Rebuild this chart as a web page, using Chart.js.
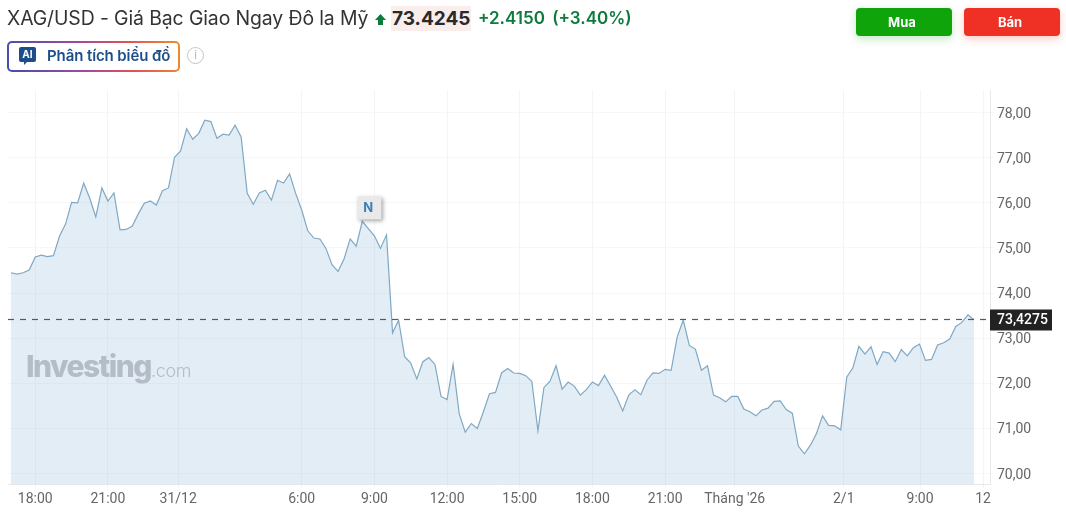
<!DOCTYPE html>
<html>
	<head>
		<meta charset="UTF-8">
		<title>XAG/USD</title>
		<style>
			html,body{margin:0;padding:0;background:#fff;overflow:hidden;}
			body{width:1066px;height:518px;position:relative;font-family:Inter,sans-serif;}
			#myChart{position:absolute;left:0;top:0;}
			.abs{position:absolute;white-space:nowrap;}
			#title{left:7px;top:6px;font-size:19.4px;line-height:24px;color:#333;letter-spacing:-0.1px;}
			#price{left:391px;top:6px;height:25px;line-height:25px;padding:0 1px;background:#faeeec;font-size:19px;font-weight:700;color:#2a2a2a;}
			#change{left:478px;top:6px;line-height:24px;font-size:17px;font-weight:600;color:#0f7a3e;word-spacing:3px;}
			.btn{top:8px;width:92px;padding-right:4px;height:28px;line-height:28px;border-radius:4px;color:#fff;text-align:center;font-size:13px;font-weight:700;}
			#buy{left:856px;background:#0ea40a;box-shadow:0 3px 8px rgba(14,164,10,.25);}
			#sell{left:964px;background:#ee3124;box-shadow:0 3px 8px rgba(238,49,36,.25);}
			#ai{left:7px;top:41px;width:173px;height:31px;box-sizing:border-box;border:2px solid transparent;border-radius:5px;
				background:linear-gradient(#fff,#fff) padding-box,linear-gradient(75deg,#3f4fb0,#9a4aa0 40%,#e0505a 70%,#ee8f2a) border-box;}
			#ai-icon{left:10px;top:4px;width:17px;height:15px;line-height:15px;border-radius:2px;background:#1d4e89;color:#fff;font-size:10px;font-weight:700;text-align:center;}
			#ai-tail{left:14.5px;top:19px;width:0;height:0;border-left:3px solid #1d4e89;border-right:3px solid transparent;border-bottom:3px solid transparent;}
			#ai-text{left:38px;top:3px;line-height:20px;font-size:15px;font-weight:600;color:#1d4e89;letter-spacing:-0.1px;}
			#info{left:187px;top:47px;width:15px;height:15px;line-height:15px;border:1.5px solid #c4c4c4;border-radius:50%;color:#b5b5b5;font-size:11px;text-align:center;}
			#wm{left:26px;top:347px;line-height:38px;font-size:30px;font-weight:800;color:#b4bdc7;letter-spacing:-1.5px;}
			#wm span{font-size:18px;font-weight:300;letter-spacing:-0.3px;}
		</style>
	</head>
	<body>
		<canvas id="myChart" width="1066" height="518"></canvas>

		<div id="title" class="abs">XAG/USD - Giá Bạc Giao Ngay Đô la Mỹ</div>
		<svg class="abs" style="left:374px;top:13px" width="13" height="13" viewBox="0 0 13 13"><path d="M6.5 1 L12 7 L9 7 L9 12 L4 12 L4 7 L1 7 Z" fill="#0f7a3e"/></svg>
		<div id="price" class="abs">73.4245</div>
		<div id="change" class="abs">+2.4150 (+3.40%)</div>
		<div id="buy" class="abs btn">Mua</div>
		<div id="sell" class="abs btn">Bán</div>
		<div id="ai" class="abs">
			<div id="ai-icon" class="abs">AI</div>
			<div id="ai-tail" class="abs"></div>
			<div id="ai-text" class="abs">Phân tích biểu đồ</div>
		</div>
		<div id="info" class="abs">i</div>
		<div id="wm" class="abs">Investing<span>.com</span></div>

		<script src="https://cdn.jsdelivr.net/npm/chart.js@4/dist/chart.umd.min.js"></script>
		<script>
			// values, one per 15 min bar
			var prices = [
				74.45,74.42,74.45,74.51,74.80,74.84,74.81,74.83,75.26,75.53,
				76.01,76.00,76.44,76.10,75.69,76.33,76.04,76.22,75.40,75.41,
				75.48,75.75,75.99,76.04,75.95,76.27,76.33,77.01,77.15,77.64,
				77.41,77.54,77.83,77.80,77.43,77.52,77.50,77.72,77.46,76.21,
				75.97,76.22,76.28,76.06,76.50,76.44,76.64,76.21,75.84,75.38,
				75.22,75.20,74.99,74.63,74.48,74.76,75.20,75.04,75.59,75.43,
				75.27,74.99,75.29,73.12,73.40,72.59,72.45,72.10,72.48,72.57,
				72.42,71.71,71.64,72.42,71.33,70.92,71.11,71.00,71.37,71.77,
				71.80,72.23,72.33,72.23,72.22,72.17,72.04,70.95,71.91,72.05,
				72.39,71.87,72.03,71.94,71.74,71.86,72.03,71.95,72.18,71.94,
				71.70,71.39,71.74,71.86,71.75,72.07,72.23,72.22,72.31,72.29,
				73.03,73.40,72.84,72.76,72.29,72.39,71.74,71.68,71.59,71.71,
				71.71,71.43,71.37,71.28,71.41,71.45,71.60,71.61,71.42,71.34,
				70.61,70.44,70.63,70.89,71.28,71.07,71.06,70.97,72.14,72.34,
				72.82,72.65,72.81,72.42,72.70,72.67,72.48,72.75,72.61,72.79,
				72.87,72.51,72.53,72.85,72.90,72.98,73.26,73.35,73.52,73.41
			];
			var lastPrice = 73.4275;
			var lineLevel = 73.415; // where the dashed line sits in the picture
			var yTicks = [70,71,72,73,74,75,76,77,78];
			var xTickPos = [4,16,27.6,48,60,72,84,96,108,119.5,137.5,150.1,160.5];
			var xTickLabels = ["18:00","21:00","31/12","6:00","9:00","12:00","15:00","18:00","21:00","Tháng '26","2/1","9:00","12"];
			var newsIndex = 58;

			var xMin = -0.5, xMax = 161.65;

			// nhan gia cuoi va co "N"
			var overlay = {
				id: 'overlay',
				afterDraw: function(chart){
					var c = chart.ctx, x = chart.scales.x, y = chart.scales.y;
					// price tag
					var py = y.getPixelForValue(lineLevel);
					c.save();
					c.fillStyle = '#222';
					c.fillRect(x.right, py - 10, 62, 21);
					c.fillStyle = '#fff';
					c.font = '500 14px Roboto';
					c.textAlign = 'left';
					c.textBaseline = 'middle';
					c.fillText(lastPrice.toFixed(4).replace('.', ','), x.right + 7, py + 1);
					// news flag
					var nx = x.getPixelForValue(newsIndex), ny = y.getPixelForValue(prices[newsIndex]);
					c.shadowColor = 'rgba(0,0,0,.35)';
					c.shadowBlur = 4;
					c.shadowOffsetX = 2;
					c.shadowOffsetY = 2;
					c.fillStyle = '#e9e9e9';
					c.fillRect(nx - 5, ny - 25, 24, 23);
					c.shadowColor = 'transparent';
					c.fillStyle = '#3d7fb8';
					c.font = '700 13px Inter';
					c.textAlign = 'center';
					c.fillText('N', nx + 6, ny - 13);
					c.restore();
				}
			};

			var ctx = document.getElementById('myChart').getContext('2d');
			var myChart = new Chart(ctx, {
				type: 'line',
				plugins: [overlay],
				data: {
					datasets: [
						{
							data: [{x:xMin,y:lineLevel},{x:xMax,y:lineLevel}],
							borderColor: '#555a60',
							borderWidth: 1.2,
							borderDash: [6,6],
							pointRadius: 0,
							fill: false
						},
						{
							data: prices.map(function(v,i){ return {x:i,y:v}; }),
							borderColor: '#7fa8c4',
							borderWidth: 1.2,
							backgroundColor: 'rgba(168,198,224,0.32)',
							pointRadius: 0,
							tension: 0,
							fill: 'start'
						}
					]
				},
				options: {
					responsive: false,
					animation: false,
					layout: {padding: {left: 8, top: 90, right: 0, bottom: 0}},
					plugins: {legend: {display: false}, tooltip: {enabled: false}},
					scales: {
						x: {
							type: 'linear',
							min: xMin,
							max: xMax,
							afterFit: function(a){ a.height = 34; },
							afterBuildTicks: function(a){
								a.ticks = xTickPos.map(function(p){ return {value:p}; });
							},
							border: {color: '#e8e8e8'},
							grid: {color: '#f3f4f6', tickLength: 4},
							ticks: {
								autoSkip: false,
								maxRotation: 0,
								padding: 3,
								color: '#666',
								font: {family: 'Roboto', size: 14},
								callback: function(v){ return xTickLabels[xTickPos.indexOf(v)]; }
							}
						},
						y: {
							position: 'right',
							min: 69.77,
							max: 78.5,
							afterFit: function(a){ a.width = 76; },
							afterBuildTicks: function(a){
								a.ticks = yTicks.map(function(p){ return {value:p}; });
							},
							border: {color: '#e8e8e8'},
							grid: {color: '#f7f7f7', tickLength: 4},
							ticks: {
								padding: 3,
								labelOffset: 1.5,
								color: '#666',
								font: {family: 'Roboto', size: 14},
								callback: function(v){ return v.toFixed(2).replace('.', ','); }
							}
						}
					}
				}
			});
		</script>
	</body>
</html>
